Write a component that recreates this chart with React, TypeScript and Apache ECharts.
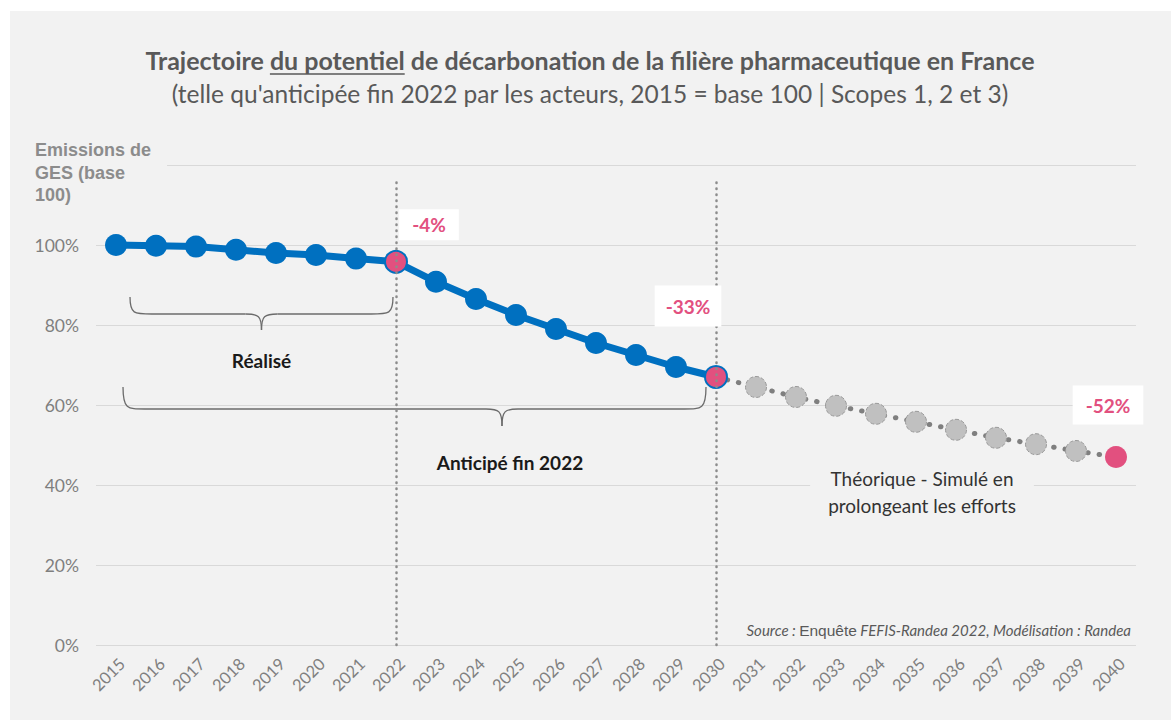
import React, { useEffect, useRef } from "react";
import * as echarts from "echarts";

const years = [
  "2015", "2016", "2017", "2018", "2019", "2020", "2021", "2022", "2023", "2024", "2025", "2026", "2027",
  "2028", "2029", "2030", "2031", "2032", "2033", "2034", "2035", "2036", "2037", "2038", "2039", "2040",
];
// 2015 → 2030 (réalisé + anticipé)
const anticipated = [100, 99.8, 99.6, 98.8, 98, 97.5, 96.6, 95.8, 90.8, 86.5, 82.5, 79, 75.5, 72.5, 69.5, 67];
// 2030 → 2040 (théorique, simulé)
const simulated = [67, 64.5, 62, 59.8, 57.8, 55.8, 53.8, 51.8, 50.2, 48.5, 47];
const yTicks = [0, 20, 40, 60, 80, 100, 120];
const milestoneYears = ["2022", "2030", "2040"];
const milestoneLabels = ["-4%", "-33%", "-52%"];
const dividerYears = ["2022", "2030"];

const BG = "#f2f2f2";
const BLUE = "#0070c0";
const PINK = "#e2507f";
const TXT = "#595959";
const FONT = "Lato, 'Open Sans', sans-serif";
const ARIAL = "'Liberation Sans', Arial, sans-serif";

// layout of annotation boxes: offset from point, padding
const annLayout = [
  { dx: 33, dy: -37, pad: [6, 13, 6, 13] },
  { dx: -28, dy: -71, pad: [11, 11, 11, 11] },
  { dx: -8, dy: -52, pad: [10, 13, 10, 13] },
];

function measure(text: string, font: string): number {
  const ctx = document.createElement("canvas").getContext("2d");
  if (!ctx) return text.length * 10;
  ctx.font = font;
  return ctx.measureText(text).width;
}

function brace(x1: number, x2: number, y0: number, ym: number, yt: number, xc: number) {
  const s = { stroke: "#6b6b6b", lineWidth: 1.3, fill: null as any };
  const r = 22;
  return [
    { type: "bezierCurve", shape: { x1, y1: y0, cpx1: x1, cpy1: ym, cpx2: x1 + 4, cpy2: ym, x2: x1 + r, y2: ym }, style: s, silent: true },
    { type: "line", shape: { x1: x1 + r, y1: ym, x2: xc - 16, y2: ym }, style: s, silent: true },
    { type: "bezierCurve", shape: { x1: xc - 16, y1: ym, cpx1: xc - 3, cpy1: ym, cpx2: xc, cpy2: ym + 2, x2: xc, y2: yt }, style: s, silent: true },
    { type: "bezierCurve", shape: { x1: xc, y1: yt, cpx1: xc, cpy1: ym + 2, cpx2: xc + 3, cpy2: ym, x2: xc + 16, y2: ym }, style: s, silent: true },
    { type: "line", shape: { x1: xc + 16, y1: ym, x2: x2 - r, y2: ym }, style: s, silent: true },
    { type: "bezierCurve", shape: { x1: x2 - r, y1: ym, cpx1: x2 - 4, cpy1: ym, cpx2: x2, cpy2: ym, x2: x2, y2: y0 }, style: s, silent: true },
  ];
}

export default function App() {
  const ref = useRef<HTMLDivElement>(null);
  useEffect(() => {
    if (!ref.current) return;
    const chart = echarts.init(ref.current, undefined, { renderer: "svg" });

    const lastAnticipated = anticipated.length - 1;
    const seriesA = anticipated.map((v, i) =>
      milestoneYears.includes(years[i])
        ? { value: v, itemStyle: { color: PINK, borderColor: BLUE, borderWidth: 2 } }
        : v
    );
    const seriesB = years.map((y, i) => {
      const j = i - lastAnticipated;
      if (j < 0) return null;
      const v = simulated[j];
      if (j === 0) return { value: v, symbol: "none" };
      if (y === milestoneYears[2]) return { value: v, symbolSize: 22, itemStyle: { color: PINK, borderWidth: 0 } };
      return v;
    });

    chart.setOption({
      animation: false,
      backgroundColor: "#ffffff",
      grid: { left: 96, right: 35, top: 165, bottom: 75, containLabel: false },
      xAxis: {
        type: "category",
        data: years,
        boundaryGap: true,
        axisLine: { show: false },
        axisTick: { show: false },
        axisLabel: {
          rotate: 45,
          color: "#7f7f7f",
          fontSize: 16.5,
          fontFamily: FONT,
          margin: 10,
          interval: 0,
          verticalAlign: "top",
        },
        splitLine: { show: false },
      },
      yAxis: {
        type: "value",
        min: yTicks[0],
        max: yTicks[yTicks.length - 1],
        interval: yTicks[1] - yTicks[0],
        axisLine: { show: false },
        axisTick: { show: false },
        axisLabel: {
          color: "#7f7f7f",
          fontSize: 17.5,
          fontFamily: FONT,
          margin: 17,
          formatter: (v: number) => (v === yTicks[yTicks.length - 1] ? "" : v + "%"),
        },
        splitLine: { lineStyle: { color: "#d9d9d9", width: 1.2 } },
      },
      series: [
        {
          type: "line",
          data: seriesB,
          symbol: "circle",
          symbolSize: 21,
          connectNulls: false,
          lineStyle: { color: "#7f7f7f", width: 5, type: [0.5, 11], cap: "round" },
          itemStyle: { color: "#c0c0c0", borderColor: "#9a9a9a", borderWidth: 1, borderType: "dashed" },
          z: 2,
        },
        {
          type: "line",
          data: seriesA,
          symbol: "circle",
          symbolSize: 22,
          lineStyle: { color: BLUE, width: 7 },
          itemStyle: { color: BLUE },
          z: 3,
          markLine: {
            silent: true,
            symbol: "none",
            label: { show: false },
            z: 10,
            lineStyle: { color: "#8c8c8c", width: 2.5, type: [0.5, 5.5], cap: "round" },
            data: dividerYears.map((y) => [{ coord: [y, 0] }, { coord: [y, 117] }]),
          },
        },
      ],
    });

    const px = (year: string, v: number) => chart.convertToPixel({ seriesIndex: 1 }, [year, v]) as number[];

    // Title with underlined part
    const tFontB = `bold 25px ${FONT}`;
    const parts = ["Trajectoire ", "du potentiel", " de décarbonation de la filière pharmaceutique en France"];
    const widths = parts.map((p) => measure(p, tFontB));
    const total = widths.reduce((a, b) => a + b, 0);
    const cx = 590;
    const tx0 = cx - total / 2;
    const titleY = 60;
    const titleEls: any[] = [];
    let acc = tx0;
    parts.forEach((p, i) => {
      titleEls.push({
        type: "text",
        x: acc,
        y: titleY,
        style: { text: p, font: tFontB, fill: TXT, align: "left", verticalAlign: "middle" },
      });
      acc += widths[i];
    });
    titleEls.push({
      type: "line",
      shape: { x1: tx0 + widths[0], y1: titleY + 14, x2: tx0 + widths[0] + widths[1], y2: titleY + 14 },
      style: { stroke: TXT, lineWidth: 1.5 },
    });

    // annotation boxes
    const annEls = milestoneYears.map((y, i) => {
      const idx = years.indexOf(y);
      const v = idx <= lastAnticipated ? anticipated[idx] : simulated[idx - lastAnticipated];
      const p = px(y, v);
      const L = annLayout[i];
      return {
        type: "text",
        x: p[0] + L.dx,
        y: p[1] + L.dy,
        z: 20,
        style: {
          text: milestoneLabels[i],
          font: `bold 19px ${FONT}`,
          fill: PINK,
          align: "center",
          verticalAlign: "middle",
          backgroundColor: "#ffffff",
          padding: L.pad,
        },
      };
    });

    // braces
    const pA = px("2015", 100);
    const p22 = px("2022", 100);
    const p30 = px("2030", 100);
    const y0a = px("2015", 87)[1];
    const y0b = px("2015", 64.5)[1];
    const braceEls = [
      ...brace(pA[0] + 14, p22[0] - 3, y0a, y0a + 17, y0a + 33, (pA[0] + 14 + p22[0] - 3) / 2),
      ...brace(pA[0] + 7, p30[0] - 10, y0b, y0b + 22, y0b + 39, 502),
    ];

    chart.setOption({
      graphic: [
        { type: "rect", shape: { x: 10, y: 11, width: 1161, height: 709 }, style: { fill: BG }, z: -100, silent: true },
        ...titleEls,
        {
          type: "text",
          x: 590,
          y: 93,
          style: {
            text: "(telle qu'anticipée fin 2022 par les acteurs, 2015 = base 100 | Scopes 1, 2 et 3)",
            font: `24.5px ${FONT}`,
            fill: TXT,
            align: "center",
            verticalAlign: "middle",
          },
        },
        {
          type: "text",
          x: 35,
          y: 139,
          z: 5,
          style: {
            text: "Emissions de\nGES (base\n100)",
            font: `bold 18px ${ARIAL}`,
            fill: "#8c8c8c",
            lineHeight: 22.5,
            align: "left",
            verticalAlign: "top",
            backgroundColor: BG,
            padding: [0, 16, 0, 0],
          },
        },
        ...annEls,
        ...braceEls,
        {
          type: "text",
          x: (pA[0] + 14 + p22[0] - 3) / 2,
          y: 360,
          style: { text: "Réalisé", font: `bold 19px ${FONT}`, fill: "#1a1a1a", align: "center", verticalAlign: "middle" },
        },
        {
          type: "text",
          x: 510,
          y: 462,
          style: { text: "Anticipé fin 2022", font: `bold 19px ${FONT}`, fill: "#1a1a1a", align: "center", verticalAlign: "middle" },
        },
        {
          type: "text",
          x: 922,
          y: 491.5,
          z: 5,
          style: {
            text: "Théorique - Simulé en\nprolongeant les efforts",
            font: `19px ${FONT}`,
            fill: "#333333",
            lineHeight: 27,
            align: "center",
            verticalAlign: "middle",
            backgroundColor: BG,
            padding: [0, 18],
          },
        },
        {
          type: "text",
          x: 1131,
          y: 630,
          style: {
            text: "{i|Source :} {n|Enquête} {i|FEFIS-Randea 2022, Modélisation : Randea}",
            align: "right",
            verticalAlign: "middle",
            rich: {
              i: { fontStyle: "italic", fontSize: 15, fontFamily: FONT, fill: TXT, color: TXT },
              n: { fontSize: 15.5, fontFamily: ARIAL, fill: TXT, color: TXT },
            },
          },
        },
      ],
    });

    return () => chart.dispose();
  }, []);
  return <div ref={ref} style={{ position: "fixed", left: 0, top: 0, width: 1171, height: 720 }} />;
}
